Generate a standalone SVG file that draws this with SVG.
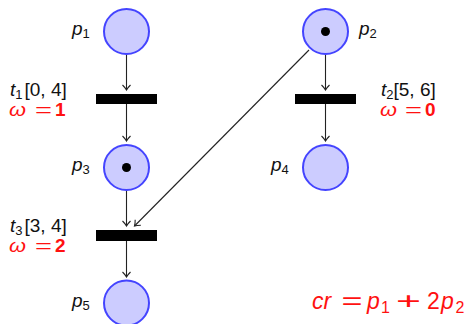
<svg xmlns="http://www.w3.org/2000/svg" width="466" height="324" viewBox="0 0 466 324">
<style>
.place{fill:#ccccff;stroke:#4444ff;stroke-width:2}
.tok{fill:#000}
.tr{fill:#000}
.arc{stroke:#222;stroke-width:1.1;fill:none;marker-end:url(#ah)}
.lbl{font-family:"Liberation Sans",Arial,sans-serif;font-size:19px;fill:#111}
.red{fill:#ff1111}
.it{font-style:italic}
.b{font-weight:bold}
.sub{font-size:13px}
.big{font-size:23px}
.bsub{font-size:16px}
</style>
<defs>
<marker id="ah" viewBox="-6 -5 8 10" refX="0" refY="0" markerWidth="8" markerHeight="10" markerUnits="userSpaceOnUse" orient="auto">
<path d="M-5,-4 Q-2,-1 0,0 Q-2,1 -5,4" fill="none" stroke="#222" stroke-width="1.1"/>
</marker>
</defs>
<g id="connectors">
<line class="arc" x1="126.5" y1="55" x2="126.5" y2="90"/>
<line class="arc" x1="126.5" y1="104" x2="126.5" y2="141"/>
<line class="arc" x1="126.5" y1="191" x2="126.5" y2="226"/>
<line class="arc" x1="126.5" y1="241" x2="126.5" y2="277"/>
<line class="arc" x1="325.5" y1="55" x2="325.5" y2="90"/>
<line class="arc" x1="325.5" y1="104" x2="325.5" y2="141"/>
<line class="arc" x1="309" y1="50" x2="134.5" y2="226"/>
</g>
<g id="p1"><circle class="place" cx="126.5" cy="31.5" r="22.5"/>
<text class="lbl" x="72" y="35"><tspan class="it">p</tspan><tspan class="sub" dy="3">1</tspan></text></g>
<g id="p2"><circle class="place" cx="325.5" cy="31.5" r="22.5"/><circle class="tok" cx="325.5" cy="31.5" r="4.5"/>
<text class="lbl" x="359" y="35"><tspan class="it">p</tspan><tspan class="sub" dy="3">2</tspan></text></g>
<g id="p3"><circle class="place" cx="126.5" cy="167.5" r="22.5"/><circle class="tok" cx="126.5" cy="167.5" r="4.5"/>
<text class="lbl" x="72" y="171"><tspan class="it">p</tspan><tspan class="sub" dy="3">3</tspan></text></g>
<g id="p4"><circle class="place" cx="325.5" cy="167.5" r="22.5"/>
<text class="lbl" x="271" y="171"><tspan class="it">p</tspan><tspan class="sub" dy="3">4</tspan></text></g>
<g id="p5"><circle class="place" cx="126.5" cy="303" r="22.5"/>
<text class="lbl" x="72" y="306.5"><tspan class="it">p</tspan><tspan class="sub" dy="3">5</tspan></text></g>
<g id="t1"><rect class="tr" x="96" y="94" width="61" height="10"/>
<text class="lbl" x="10" y="96"><tspan class="it">t</tspan><tspan class="sub" dy="2.5">1</tspan><tspan dx="2" dy="-2.5">[0, 4]</tspan></text>
<text class="lbl red" x="9" y="116"><tspan class="it" textLength="17" lengthAdjust="spacingAndGlyphs">ω</tspan><tspan x="35" textLength="17" lengthAdjust="spacingAndGlyphs">=</tspan><tspan class="b" x="55">1</tspan></text></g>
<g id="t2"><rect class="tr" x="295" y="94" width="61" height="10"/>
<text class="lbl" x="381" y="96"><tspan class="it">t</tspan><tspan class="sub" dy="2.5">2</tspan><tspan dy="-2.5">[5, 6]</tspan></text>
<text class="lbl red" x="380" y="116"><tspan class="it" textLength="17" lengthAdjust="spacingAndGlyphs">ω</tspan><tspan x="405" textLength="17" lengthAdjust="spacingAndGlyphs">=</tspan><tspan class="b" x="425">0</tspan></text></g>
<g id="t3"><rect class="tr" x="96" y="230" width="61" height="11"/>
<text class="lbl" x="10" y="232"><tspan class="it">t</tspan><tspan class="sub" dy="2.5">3</tspan><tspan dx="2" dy="-2.5">[3, 4]</tspan></text>
<text class="lbl red" x="9" y="252"><tspan class="it" textLength="17" lengthAdjust="spacingAndGlyphs">ω</tspan><tspan x="35" textLength="17" lengthAdjust="spacingAndGlyphs">=</tspan><tspan class="b" x="55">2</tspan></text></g>
<g id="formula">
<text class="lbl red big" x="312" y="309"><tspan class="it">cr</tspan><tspan x="341.5" textLength="21" lengthAdjust="spacingAndGlyphs">=</tspan><tspan class="it" x="367">p</tspan><tspan class="bsub" x="381" dy="4">1</tspan><tspan x="396" dy="-4" textLength="25" lengthAdjust="spacingAndGlyphs">+</tspan><tspan x="427">2</tspan><tspan class="it" x="441">p</tspan><tspan class="bsub" x="455.5" dy="4">2</tspan></text>
</g>
</svg>
